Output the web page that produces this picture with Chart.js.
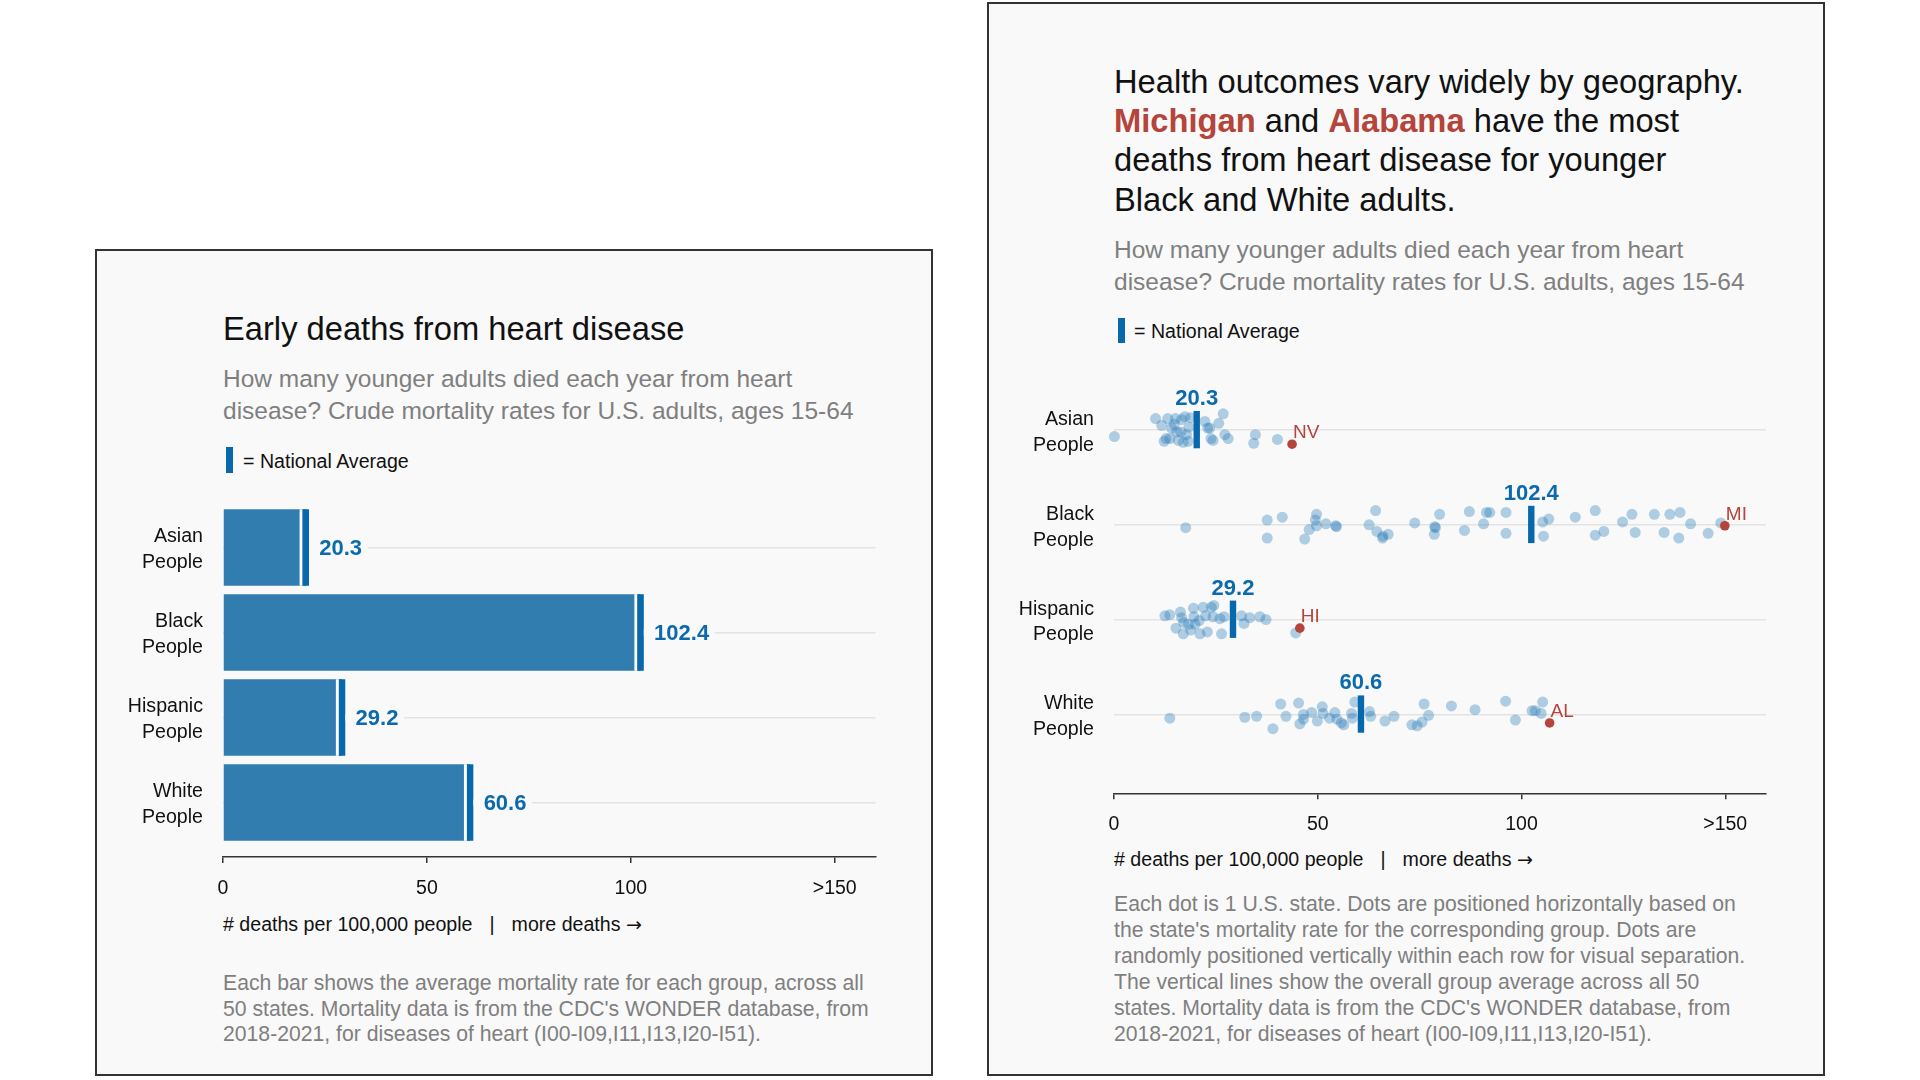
<!DOCTYPE html>
<html>
<head>
<meta charset="utf-8">
<script src="https://cdn.jsdelivr.net/npm/chart.js@4.4.0/dist/chart.umd.min.js"></script>
<style>
    body { margin: 0; background: #fff; font-family: "Liberation Sans", Arial, sans-serif; }
    #page { position: relative; width: 1920px; height: 1080px; overflow: hidden; }
    .panel { position: absolute; box-sizing: border-box; border: 2px solid #333; background: #f9f9f9; }
    .txt { position: absolute; white-space: nowrap; color: #111; }
    .title { font-size: 32.7px; }
    .sub { font-size: 24.5px; line-height: 32px; color: #7f7f7f; }
    .small { font-size: 19.6px; line-height: 24px; }
    .note { font-size: 21.2px; color: #7f7f7f; }
    .key { position: absolute; background: #0868ac; }
    .red { color: #b5443b; font-weight: bold; }
    .sep { margin: 0 17px; }
    .arrow { font-family: "DejaVu Sans", sans-serif; font-size: 19px; }
    canvas { position: absolute; }
</style>
</head>
<body>
<div id="page">
    <div class="panel" style="left:95px; top:249px; width:838px; height:827px;"></div>
    <div class="panel" style="left:987px; top:2px; width:838px; height:1074px;"></div>

    <div class="txt title" style="left:223px; top:310px; line-height:38px;">Early deaths from heart disease</div>
    <div class="txt sub" style="left:223px; top:363px;">How many younger adults died each year from heart<br>disease? Crude mortality rates for U.S. adults, ages 15-64</div>
    <div class="key" style="left:226px; top:447px; width:7px; height:26px;"></div>
    <div class="txt small" style="left:243px; top:449px;">= National Average</div>
    <div class="txt small" style="left:223px; top:912px;"># deaths per 100,000 people<span class="sep">|</span>more deaths <span class="arrow">→</span></div>
    <div class="txt note" style="left:223px; top:970px; line-height:25.5px;">Each bar shows the average mortality rate for each group, across all<br>50 states. Mortality data is from the CDC's WONDER database, from<br>2018-2021, for diseases of heart (I00-I09,I11,I13,I20-I51).</div>
    <canvas id="barChart" width="830" height="430" style="left:97px; top:490px;"></canvas>

    <div class="txt title" style="left:1114px; top:62px; line-height:39.2px;">Health outcomes vary widely by geography.<br><span class="red">Michigan</span> and <span class="red">Alabama</span> have the most<br>deaths from heart disease for younger<br>Black and White adults.</div>
    <div class="txt sub" style="left:1114px; top:234px;">How many younger adults died each year from heart<br>disease? Crude mortality rates for U.S. adults, ages 15-64</div>
    <div class="key" style="left:1118px; top:318px; width:6.5px; height:25px;"></div>
    <div class="txt small" style="left:1134px; top:319px;">= National Average</div>
    <div class="txt small" style="left:1114px; top:847px;"># deaths per 100,000 people<span class="sep">|</span>more deaths <span class="arrow">→</span></div>
    <div class="txt note" style="left:1114px; top:891px; line-height:26px;">Each dot is 1 U.S. state. Dots are positioned horizontally based on<br>the state's mortality rate for the corresponding group. Dots are<br>randomly positioned vertically within each row for visual separation.<br>The vertical lines show the overall group average across all 50<br>states. Mortality data is from the CDC's WONDER database, from<br>2018-2021, for diseases of heart (I00-I09,I11,I13,I20-I51).</div>
    <canvas id="dotChart" width="830" height="490" style="left:990px; top:360px;"></canvas>
</div>

<script>
// groups and national averages
const groups = [["Asian", "People"], ["Black", "People"], ["Hispanic", "People"], ["White", "People"]];
const groupAvg = [20.3, 102.4, 29.2, 60.6];
const xTicks = [0, 50, 100, 150];
const xTickText = ["0", "50", "100", ">150"];

// state rates per group, with the vertical jitter (in row units)
const asianRates = [0.1, 10.2, 11.7, 12.3, 12.8, 13.2, 13.7, 14.1, 14.8, 15.1, 15.4, 15.8, 16.4, 16.6, 17.0, 17.4, 17.8, 18.2, 18.4, 18.8, 22.3, 23.0, 23.5, 23.8, 24.3, 25.7, 26.8, 27.2, 28.0, 34.3, 34.7, 40.1];
const asianJitter = [0.07, -0.12, -0.05, 0.12, 0.09, -0.12, 0.09, -0.02, -0.06, -0.12, 0.02, 0.11, 0.02, -0.11, 0.13, -0.14, 0.05, 0.12, -0.03, -0.13, -0.09, -0.02, -0.02, 0.09, 0.11, -0.07, -0.17, 0.05, 0.09, 0.14, 0.05, 0.10];

const blackRates = [17.6, 37.6, 37.6, 41.3, 46.8, 47.9, 49.4, 49.7, 49.7, 52.0, 54.4, 54.6, 62.6, 64.2, 64.5, 65.9, 66.0, 67.3, 73.8, 78.6, 78.7, 78.9, 79.9, 86.0, 87.2, 90.7, 91.4, 92.2, 96.2, 96.2, 105.2, 105.4, 106.7, 113.2, 118.1, 118.1, 120.2, 124.8, 127.1, 127.9, 132.6, 135.0, 136.4, 138.6, 138.9, 141.5, 145.8, 148.9];
const blackJitter = [0.03, -0.05, 0.14, -0.08, 0.15, 0.05, -0.05, -0.11, 0.01, -0.01, 0.01, 0.02, 0, -0.15, 0.07, 0.14, 0.12, 0.10, -0.02, 0.10, 0.02, 0.03, -0.11, 0.06, -0.14, -0.01, -0.13, -0.13, -0.13, 0.09, -0.03, 0.12, -0.06, -0.08, -0.15, 0.11, 0.07, -0.03, -0.11, 0.08, -0.11, 0.08, -0.11, 0.14, -0.13, -0.01, 0.09, -0.02];

const hispanicRates = [12.5, 13.7, 15.2, 16.3, 16.6, 17.0, 17.1, 18.3, 18.8, 19.5, 19.6, 19.9, 20.9, 21.1, 21.9, 22.5, 22.9, 23.9, 24.3, 24.5, 26.0, 26.4, 27.0, 31.3, 31.9, 33.3, 35.8, 37.3, 44.6];
const hispanicJitter = [-0.04, -0.05, 0.09, -0.08, -0.02, 0.15, 0.03, 0.05, 0.11, -0.12, -0.03, 0.05, 0.01, 0.15, -0.13, -0.04, 0.13, -0.13, -0.03, -0.15, -0.01, 0.15, -0.03, -0.04, 0.04, -0.02, -0.03, 0, 0.14];

const whiteRates = [13.7, 32.1, 35.0, 39.0, 40.9, 42.2, 45.3, 45.6, 46.5, 46.5, 48.5, 49.9, 51.1, 51.3, 52.9, 54.2, 54.7, 55.8, 56.4, 58.3, 58.5, 59.1, 62.7, 63.0, 66.5, 68.7, 73.1, 74.4, 75.6, 76.1, 77.2, 82.8, 88.6, 96.1, 98.5, 102.6, 103.4, 104.8, 105.2];
const whiteJitter = [0.04, 0.03, 0.02, 0.15, -0.11, 0.02, -0.12, 0.10, 0, 0.05, -0.02, 0.07, -0.08, -0.01, 0.04, -0.02, 0.05, 0.09, 0.11, -0.01, 0.04, -0.13, -0.03, 0.02, 0.07, 0.02, 0.11, 0.12, 0.08, -0.11, 0.01, -0.09, -0.05, -0.14, 0.06, -0.04, -0.04, -0.01, -0.13];

// highest state per group
const topState = ["NV", "MI", "HI", "AL"];
const topRate = [43.7, 149.9, 45.6, 106.9];
const topJitter = [0.15, 0.01, 0.09, 0.09];

const fontFamily = '"Liberation Sans", Arial, sans-serif';
const panelBg = "#f9f9f9";
const barBlue = "#317db0";
const markBlue = "#0868ac";
const labelBlue = "#0b6aae";
const stateRed = "#b5443b";

Chart.defaults.font.family = fontFamily;
Chart.defaults.color = "#111";

function xScaleOptions(height) {
    return {
        type: "linear",
        min: 0,
        max: 160,
        afterBuildTicks: function (scale) {
            scale.ticks = xTicks.map(function (v) { return { value: v }; });
        },
        afterFit: function (scale) {
            scale.height = height;
            scale.paddingLeft = 0;
            scale.paddingRight = 0;
        },
        ticks: {
            autoSkip: false,
            maxRotation: 0,
            padding: 13.5,
            font: { size: 19.5 },
            color: "#111",
            callback: function (v) { return xTickText[xTicks.indexOf(v)]; },
        },
        grid: { drawOnChartArea: false, drawTicks: true, tickLength: 6, color: "#333", lineWidth: 1.5 },
        border: { display: true, color: "#333", width: 1.5 },
    };
}

function yScaleOptions(width, max) {
    return {
        type: "linear",
        reverse: true,
        offset: false,
        min: -0.6,
        max: max,
        afterBuildTicks: function (scale) {
            scale.ticks = groups.map(function (g, i) { return { value: i }; });
        },
        afterFit: function (scale) {
            scale.width = width;
            scale.paddingTop = 0;
            scale.paddingBottom = 0;
        },
        ticks: {
            autoSkip: false,
            padding: 20,
            labelOffset: 2.5,
            font: { size: 19.6, lineHeight: 1.32 },
            color: "#111",
            callback: function (v) { return groups[v]; },
        },
        grid: { offset: false, drawTicks: false, color: "#e3e3e3", lineWidth: 1.5 },
        border: { display: false },
    };
}

// left: bars with national average marks
const barMarks = {
    id: "barMarks",
    afterDatasetsDraw: function (chart) {
        const ctx = chart.ctx;
        const xs = chart.scales.x;
        const meta = chart.getDatasetMeta(0);
        ctx.save();
        ctx.font = "bold 22px " + fontFamily;
        groupAvg.forEach(function (v, i) {
            const bar = meta.data[i];
            const x = xs.getPixelForValue(v);
            const top = bar.y - bar.height / 2;
            ctx.fillStyle = "#fff";
            ctx.fillRect(x - 6.2, top, 3, bar.height);
            ctx.fillStyle = markBlue;
            ctx.fillRect(x - 3.2, top, 6.4, bar.height);
            const txt = v.toFixed(1);
            const w = ctx.measureText(txt).width;
            ctx.fillStyle = panelBg;
            ctx.fillRect(x + 3.2, bar.y - 3, w + 16, 6);
            ctx.fillStyle = labelBlue;
            ctx.textAlign = "left";
            ctx.fillText(txt, x + 13.5, bar.y + 7.9);
        });
        ctx.restore();
    },
};

new Chart(document.getElementById("barChart").getContext("2d"), {
    type: "bar",
    data: {
        datasets: [
            {
                data: groupAvg.map(function (v, i) { return { x: v, y: i }; }),
                backgroundColor: barBlue,
                borderWidth: 0,
                barPercentage: 1,
                categoryPercentage: 0.9,
            },
        ],
    },
    options: {
        indexAxis: "y",
        responsive: false,
        animation: false,
        layout: { padding: { top: 6.5, right: 51.5, bottom: 0, left: 0 } },
        plugins: { legend: { display: false }, tooltip: { enabled: false } },
        scales: { x: xScaleOptions(63), y: yScaleOptions(126, 3.641) },
    },
    plugins: [barMarks],
});

// right: one dot per state
function rowPoints(rates, jitter, row) {
    return rates.map(function (v, i) { return { x: v, y: row + jitter[i] }; });
}

const dotMarks = {
    id: "dotMarks",
    afterDatasetsDraw: function (chart) {
        const ctx = chart.ctx;
        const xs = chart.scales.x;
        const ys = chart.scales.y;
        ctx.save();
        groupAvg.forEach(function (v, i) {
            const x = xs.getPixelForValue(v);
            const y = ys.getPixelForValue(i);
            ctx.fillStyle = markBlue;
            ctx.fillRect(x - 3.2, y - 19, 6.4, 37.3);
            ctx.font = "bold 22px " + fontFamily;
            ctx.fillStyle = labelBlue;
            ctx.textAlign = "center";
            ctx.fillText(v.toFixed(1), x, y - 25);
        });
        const hm = chart.getDatasetMeta(0);
        ctx.font = "19px " + fontFamily;
        ctx.fillStyle = stateRed;
        ctx.textAlign = "left";
        hm.data.forEach(function (pt, i) {
            ctx.fillText(topState[i], pt.x + 1, pt.y - 6);
        });
        ctx.restore();
    },
};

const dotStyle = {
    pointRadius: 5.5,
    pointBackgroundColor: "rgba(33,121,184,0.35)",
    pointBorderWidth: 0,
    clip: false,
};

new Chart(document.getElementById("dotChart").getContext("2d"), {
    type: "scatter",
    data: {
        datasets: [
            {
                data: topRate.map(function (v, i) { return { x: v, y: i + topJitter[i] }; }),
                pointRadius: 4.8,
                pointBackgroundColor: stateRed,
                pointBorderWidth: 0,
                clip: false,
            },
            Object.assign({ data: rowPoints(asianRates, asianJitter, 0) }, dotStyle),
            Object.assign({ data: rowPoints(blackRates, blackJitter, 1) }, dotStyle),
            Object.assign({ data: rowPoints(hispanicRates, hispanicJitter, 2) }, dotStyle),
            Object.assign({ data: rowPoints(whiteRates, whiteJitter, 3) }, dotStyle),
        ],
    },
    options: {
        responsive: false,
        animation: false,
        layout: { padding: { top: 13.1, right: 54, bottom: 0, left: 0 } },
        plugins: { legend: { display: false }, tooltip: { enabled: false } },
        scales: { x: xScaleOptions(56.7), y: yScaleOptions(124, 3.832) },
    },
    plugins: [dotMarks],
});
</script>
</body>
</html>
